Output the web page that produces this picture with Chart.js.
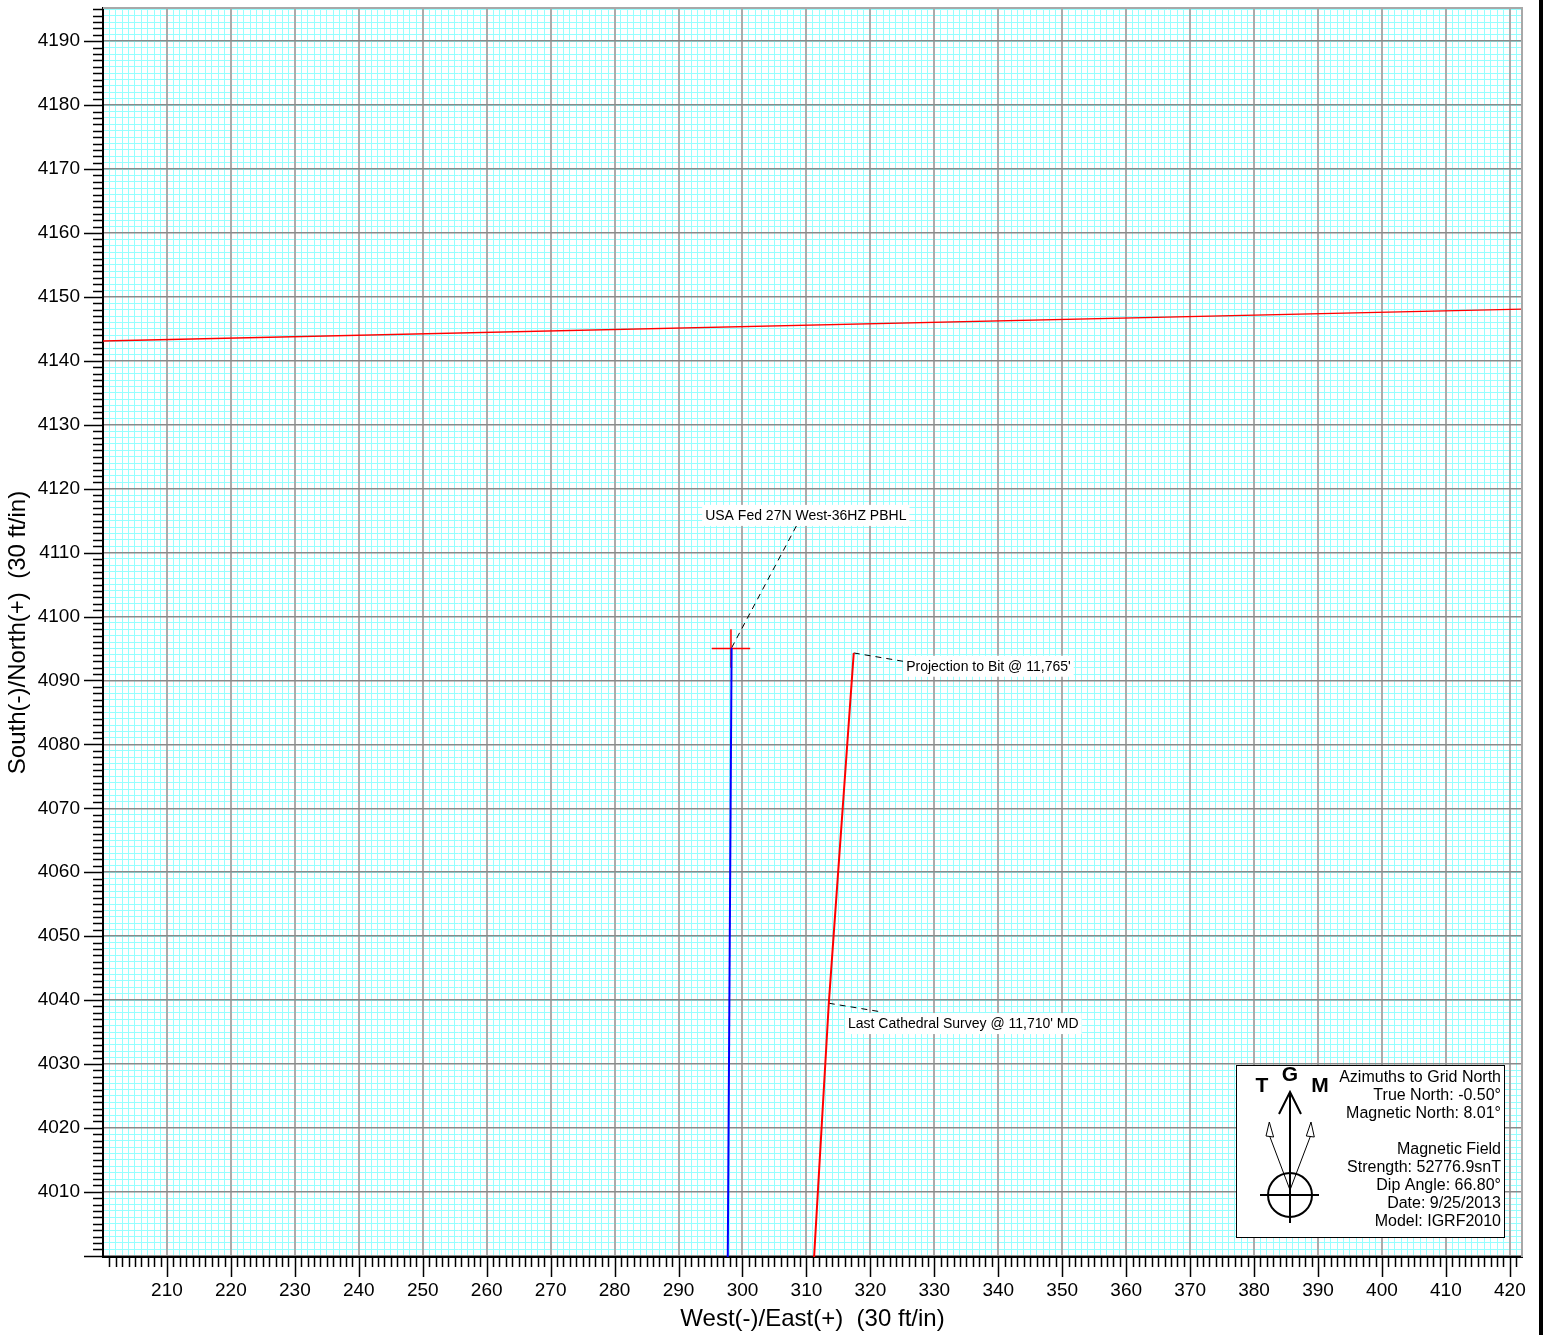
<!DOCTYPE html>
<html>
<head>
<meta charset="utf-8">
<script src="https://cdn.jsdelivr.net/npm/chart.js@4.4.0/dist/chart.umd.min.js"></script>
<style>
body{margin:0;background:#fff}
canvas{display:block}
</style>
</head>
<body>
<canvas id="plan" width="1544" height="1335"></canvas>
<script>
// axis ranges (ft)
const xRange = [200, 421.9]
const yRange = [3999.8, 4195.2]

// well paths
const planEast = [297.7, 298.3]
const planNorth = [3999.8, 4095.1]
const actualEast = [311.2, 313.5, 317.4]
const actualNorth = [3999.8, 4039.5, 4094.3]
const leaseEast = [200, 421.9]
const leaseNorth = [4143.1, 4148.1]
const targetEast = 298.2
const targetNorth = 4095
const targetHalf = 3

// annotations
const noteText = ["USA Fed 27N West-36HZ PBHL", "Projection to Bit @ 11,765'", "Last Cathedral Survey @ 11,710' MD"]
const noteFrom = [[298.3, 4095.1], [317.4, 4094.3], [313.5, 4039.5]]
const noteTo = [[308.5, 4114.3], [325.1, 4093.0], [322.0, 4038.1]]
const noteAt = [[309.9, 4115.9], [325.6, 4092.3], [316.5, 4036.4]]
const noteAlign = ['center', 'left', 'left']

const legendLines = ['Azimuths to Grid North', 'True North: -0.50°', 'Magnetic North: 8.01°', '',
  'Magnetic Field', 'Strength: 52776.9snT', 'Dip Angle: 66.80°', 'Date: 9/25/2013', 'Model: IGRF2010']

const pts = (xs, ys) => xs.map((v, i) => ({x: v, y: ys[i]}))
const font = 'Arial, "Liberation Sans", sans-serif'

const major = v => Math.round(v) % 10 === 0
function everyFoot(scale) {
  const ticks = []
  for (let v = Math.floor(scale.min) + 1; v <= scale.max; v++) ticks.push({value: v})
  scale.ticks = ticks
}
function everyTen(scale) {
  const ticks = []
  for (let v = Math.ceil(scale.min / 10) * 10; v <= scale.max; v += 10) ticks.push({value: v})
  scale.ticks = ticks
}
function tickLabel(v) {
  return major(v) && v > this.min + 0.5 ? String(Math.round(v)) : ''
}

const datasets = [
  {data: pts(planEast, planNorth), borderColor: '#0000ff', borderWidth: 2},
  {data: pts(actualEast, actualNorth), borderColor: '#ff0000', borderWidth: 2},
  {data: pts([targetEast - targetHalf, targetEast + targetHalf], [targetNorth, targetNorth]), borderColor: '#ff0000', borderWidth: 1.5},
  {data: pts([targetEast, targetEast], [targetNorth - targetHalf, targetNorth + targetHalf]), borderColor: '#ff0000', borderWidth: 1.5},
  {data: pts(leaseEast, leaseNorth), borderColor: '#ff0000', borderWidth: 1.3}
]
noteFrom.forEach((f, i) => {
  datasets.push({data: pts([f[0], noteTo[i][0]], [f[1], noteTo[i][1]]), borderColor: '#000', borderWidth: 1, borderDash: [6, 5]})
})
datasets.forEach(d => { d.showLine = true; d.pointRadius = 0; d.fill = false })

const decor = {
  id: 'decor',
  afterDatasetsDraw(chart) {
    const {ctx, scales: {x, y}} = chart
    ctx.save()
    ctx.font = '14px ' + font
    ctx.textBaseline = 'middle'
    noteText.forEach((t, i) => {
      const px = x.getPixelForValue(noteAt[i][0])
      const py = y.getPixelForValue(noteAt[i][1])
      const w = ctx.measureText(t).width
      const left = noteAlign[i] === 'center' ? px - w / 2 : px
      ctx.fillStyle = '#fff'
      ctx.fillRect(left - 3, py - 10, w + 6, 21)
      ctx.fillStyle = '#000'
      ctx.textAlign = 'left'
      ctx.fillText(t, left, py + 1)
    })
    ctx.restore()
  },
  afterDraw(chart) {
    const {ctx, chartArea: a, scales: {x, y}} = chart
    ctx.save()
    // top and right frame
    ctx.strokeStyle = '#a8a8a8'
    ctx.lineWidth = 2
    ctx.beginPath()
    ctx.moveTo(a.left, a.top); ctx.lineTo(a.right, a.top); ctx.lineTo(a.right, a.bottom)
    ctx.stroke()
    // tick marks
    ctx.strokeStyle = '#000'
    ctx.lineWidth = 1.5
    ctx.beginPath()
    x.ticks.forEach(t => {
      const p = Math.round(x.getPixelForValue(t.value)) + 0.5
      ctx.moveTo(p, a.bottom); ctx.lineTo(p, a.bottom + (major(t.value) ? 20 : 10))
    })
    y.ticks.forEach(t => {
      const p = Math.round(y.getPixelForValue(t.value)) + 0.5
      ctx.moveTo(a.left, p); ctx.lineTo(a.left - (major(t.value) ? 19 : 10), p)
    })
    ctx.stroke()
    // page edge
    ctx.fillStyle = '#000'
    ctx.fillRect(chart.width - 5, 0, 4, chart.height)

    // north arrow legend box
    const bx = a.right - 286, by = a.bottom - 192, bw = 268, bh = 172
    ctx.fillStyle = '#fff'
    ctx.fillRect(bx, by, bw, bh)
    ctx.strokeStyle = '#000'
    ctx.lineWidth = 1
    ctx.strokeRect(bx + 0.5, by + 0.5, bw, bh)
    ctx.font = '16px ' + font
    ctx.fillStyle = '#000'
    ctx.textAlign = 'right'
    ctx.textBaseline = 'middle'
    legendLines.forEach((l, i) => ctx.fillText(l, bx + bw - 3, by + 13 + i * 18))

    const cx = bx + 54, cy = by + 130
    ctx.lineWidth = 2
    ctx.beginPath()
    ctx.moveTo(cx, cy + 28); ctx.lineTo(cx, by + 27)
    ctx.moveTo(cx - 11, by + 49); ctx.lineTo(cx, by + 27); ctx.lineTo(cx + 11, by + 49)
    ctx.moveTo(cx - 30, cy); ctx.lineTo(cx + 29, cy)
    ctx.stroke()
    ctx.beginPath()
    ctx.arc(cx, cy, 22, 0, Math.PI * 2)
    ctx.stroke()
    // true and magnetic arrows
    ctx.lineWidth = 1
    ;[[-20.7, -3.3, 4.3], [21, -4.7, 3.3]].forEach(([dx, b1, b2]) => {
      const tipX = cx + dx, tipY = by + 57
      ctx.beginPath()
      ctx.moveTo(cx, cy - 5); ctx.lineTo(tipX + (b1 + b2) / 2, by + 71.5)
      ctx.stroke()
      ctx.beginPath()
      ctx.moveTo(tipX, tipY); ctx.lineTo(tipX + b1, by + 71); ctx.lineTo(tipX + b2, by + 72); ctx.closePath()
      ctx.fillStyle = '#fff'; ctx.fill(); ctx.stroke()
    })
    ctx.fillStyle = '#000'
    ctx.textAlign = 'center'
    ctx.font = 'bold 21px ' + font
    ctx.fillText('T', cx - 28, by + 21)
    ctx.fillText('G', cx, by + 10)
    ctx.fillText('M', cx + 30, by + 21)
    ctx.restore()
  }
}

// extra scales that only carry the 10 ft grid, drawn above the 1 ft grid
const majorGrid = (pos, color, width) => ({
  type: 'linear', position: pos,
  afterBuildTicks: everyTen,
  afterFit: s => { if (s.isHorizontal()) s.height = 0; else s.width = 0; s.paddingLeft = s.paddingRight = s.paddingTop = s.paddingBottom = 0 },
  grid: {color: color, lineWidth: width, drawTicks: false, z: -0.5},
  ticks: {display: false},
  border: {display: false}
})
const xMajor = majorGrid('bottom', '#ababab', 2)
xMajor.min = xRange[0]; xMajor.max = xRange[1]
const yMajor = majorGrid('left', '#8a8a8a', 1.5)
yMajor.min = yRange[0]; yMajor.max = yRange[1]

new Chart('plan', {
  type: 'scatter',
  data: {datasets: datasets},
  plugins: [decor],
  options: {
    responsive: false,
    animation: false,
    devicePixelRatio: 1,
    layout: {padding: {top: 8, right: 22, left: 0, bottom: 0}},
    plugins: {legend: {display: false}, tooltip: {enabled: false}},
    scales: {
      x: {
        type: 'linear', min: xRange[0], max: xRange[1],
        afterBuildTicks: everyFoot,
        afterFit: s => { s.height = 78; s.paddingLeft = 0; s.paddingRight = 0 },
        grid: {color: '#96ffff', lineWidth: 1, drawTicks: false},
        border: {color: '#000', width: 2},
        ticks: {callback: tickLabel, autoSkip: false, maxRotation: 0, minRotation: 0, padding: 22,
          color: '#000', font: {family: font, size: 19}},
        title: {display: true, text: 'West(-)/East(+)  (30 ft/in)', color: '#000',
          font: {family: font, size: 24}, padding: {top: 0, bottom: 1}}
      },
      y: {
        type: 'linear', min: yRange[0], max: yRange[1],
        afterBuildTicks: everyFoot,
        afterFit: s => { s.width = 103; s.paddingTop = 0; s.paddingBottom = 0 },
        grid: {color: '#96ffff', lineWidth: 1, drawTicks: false},
        border: {color: '#000', width: 2},
        ticks: {callback: tickLabel, autoSkip: false, padding: 23,
          color: '#000', font: {family: font, size: 19}},
        title: {display: true, text: 'South(-)/North(+)  (30 ft/in)', color: '#000',
          font: {family: font, size: 24}, padding: {top: 4, bottom: 0}}
      },
      xMajor: xMajor,
      yMajor: yMajor
    }
  }
})
</script>
</body>
</html>
